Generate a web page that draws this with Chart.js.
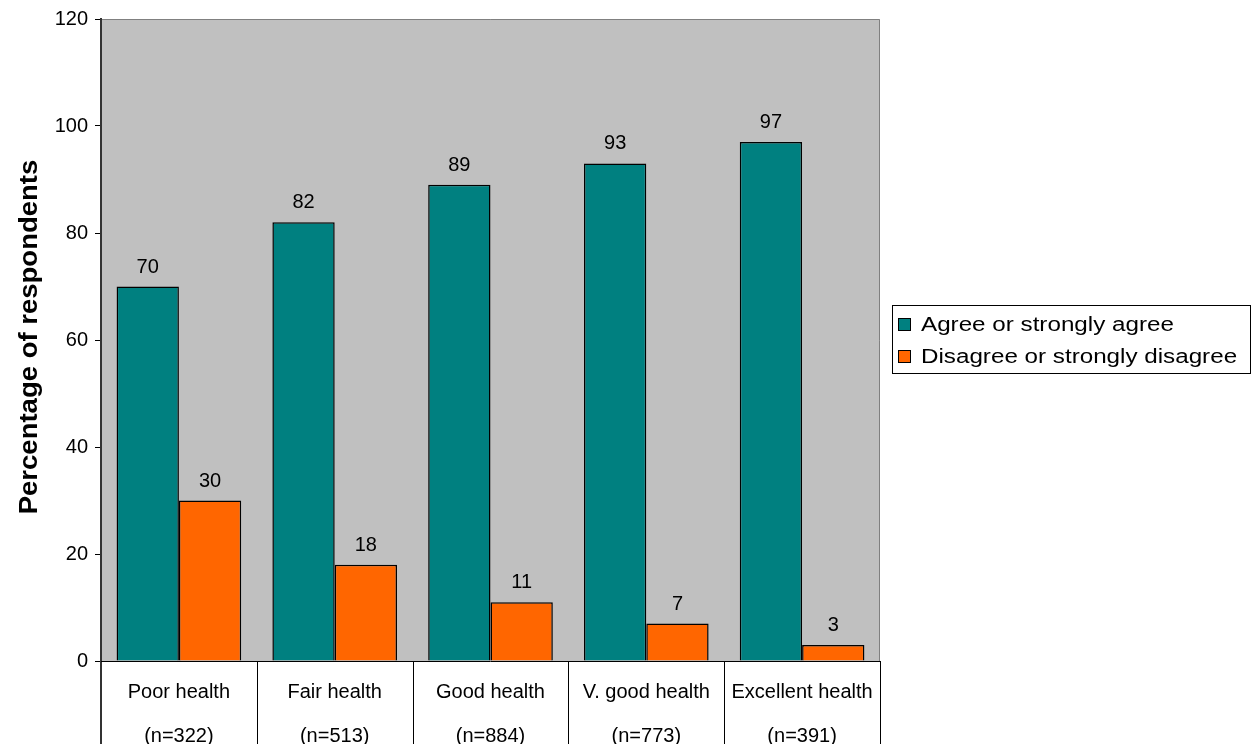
<!DOCTYPE html>
<html>
<head>
<meta charset="utf-8">
<script src="https://cdn.jsdelivr.net/npm/chart.js@4/dist/chart.umd.min.js"></script>
<style>
html,body{margin:0;padding:0;background:#fff;}
#wrap{width:1253px;height:744px;}
</style>
</head>
<body>
<div id="wrap"><canvas id="c" width="1253" height="744"></canvas></div>
<script>
const categories = [['Poor health','(n=322)'],['Fair health','(n=513)'],['Good health','(n=884)'],['V. good health','(n=773)'],['Excellent health','(n=391)']];
const agreeValues = [70, 82, 89, 93, 97];
const disagreeValues = [30, 18, 11, 7, 3];
const seriesLabels = ['Agree or strongly agree', 'Disagree or strongly disagree'];
const yTicks = [0, 20, 40, 60, 80, 100, 120];
const yTitle = 'Percentage of respondents';

const FONT = 'Arial, "Liberation Sans", sans-serif';

const plotBg = {
  id: 'plotBg',
  beforeDraw(chart) {
    const {ctx, chartArea: a} = chart;
    ctx.save();
    ctx.fillStyle = '#C0C0C0';
    ctx.fillRect(a.left, a.top, a.right - a.left, a.bottom - a.top);
    ctx.strokeStyle = '#808080';
    ctx.lineWidth = 1;
    ctx.beginPath();
    ctx.moveTo(a.left, a.top + 0.5); ctx.lineTo(a.right - 0.5, a.top + 0.5);
    ctx.lineTo(a.right - 0.5, a.bottom);
    ctx.stroke();
    ctx.restore();
  }
};

const extras = {
  id: 'extras',
  afterDraw(chart) {
    const {ctx, chartArea: a} = chart;
    const xs = chart.scales.x;
    const ys = chart.scales.y;
    ctx.save();
    // category separators below axis
    const n = chart.data.labels.length;
    const w = (xs.right - xs.left) / n;
    for (let i = 0; i <= n; i++) {
      const x = Math.round(xs.left + i * w) + (i === 0 ? 0 : 0.5);
      ctx.strokeStyle = i === 0 ? '#333' : '#000';
      ctx.lineWidth = i === 0 ? 2 : 1;
      ctx.beginPath();
      ctx.moveTo(x, a.bottom);
      ctx.lineTo(x, chart.height);
      ctx.stroke();
    }
    // x axis line
    ctx.strokeStyle = '#000';
    ctx.lineWidth = 1;
    ctx.beginPath();
    ctx.moveTo(a.left, a.bottom + 0.5);
    ctx.lineTo(a.right, a.bottom + 0.5);
    ctx.stroke();
    // value labels
    ctx.fillStyle = '#000';
    ctx.font = '20px ' + FONT;
    ctx.textAlign = 'center';
    ctx.textBaseline = 'alphabetic';
    chart.data.datasets.forEach((ds, di) => {
      const meta = chart.getDatasetMeta(di);
      meta.data.forEach((bar, i) => {
        ctx.fillText(String(ds.data[i]), bar.x, bar.y - 14);
      });
    });
    // y title (rotated)
    ctx.save();
    ctx.translate(30, (ys.top + ys.bottom) / 2 - 3);
    ctx.rotate(-Math.PI / 2);
    ctx.scale(1.1, 1);
    ctx.font = 'bold 25px ' + FONT;
    ctx.textAlign = 'center';
    ctx.textBaseline = 'middle';
    ctx.fillText(yTitle, 0, 0);
    ctx.restore();
    // legend
    const lx = 892, ly = 305, lw = 358, lh = 68;
    ctx.fillStyle = '#fff';
    ctx.fillRect(lx, ly, lw, lh);
    ctx.strokeStyle = '#000';
    ctx.lineWidth = 1;
    ctx.strokeRect(lx + 0.5, ly + 0.5, lw, lh);
    ctx.font = '20px ' + FONT;
    ctx.textAlign = 'left';
    ctx.textBaseline = 'middle';
    chart.data.datasets.forEach((ds, di) => {
      const cy = ly + 19 + di * 32;
      ctx.fillStyle = ds.backgroundColor;
      ctx.fillRect(lx + 6, cy - 6, 13, 13);
      ctx.strokeStyle = '#000';
      ctx.strokeRect(lx + 6.5, cy - 5.5, 12, 12);
      ctx.fillStyle = '#000';
      ctx.save();
      ctx.translate(lx + 29, cy + 1);
      ctx.scale(1.21, 1);
      ctx.fillText(ds.label, 0, 0);
      ctx.restore();
    });
    ctx.restore();
  }
};

new Chart(document.getElementById('c'), {
  type: 'bar',
  data: {
    labels: categories,
    datasets: [
      {label: seriesLabels[0], data: agreeValues, backgroundColor: '#008080', borderColor: '#000', borderWidth: 1.5},
      {label: seriesLabels[1], data: disagreeValues, backgroundColor: '#FF6600', borderColor: '#000', borderWidth: 1.5}
    ]
  },
  options: {
    responsive: false,
    animation: false,
    devicePixelRatio: 1,
    layout: {padding: {top: 15, right: 373, bottom: 0, left: 0}},
    categoryPercentage: 0.8,
    barPercentage: 1.0,
    plugins: {legend: {display: false}, tooltip: {enabled: false}},
    scales: {
      x: {
        grid: {display: false, drawOnChartArea: false, drawTicks: false},
        border: {display: false},
        ticks: {font: {family: FONT, size: 20, lineHeight: 2.2}, color: '#000', padding: 9, maxRotation: 0, autoSkip: false},
        afterFit(s) { s.height = 83; }
      },
      y: {
        min: 0, max: 120,
        afterBuildTicks(s) { s.ticks = yTicks.map(v => ({value: v})); },
        grid: {drawOnChartArea: false, tickLength: 6, color: '#000'},
        border: {display: true, color: '#333', width: 2},
        ticks: {font: {family: FONT, size: 20}, color: '#000', padding: 7},
        title: {display: false},
        afterFit(s) { s.width = 101; }
      }
    }
  },
  plugins: [plotBg, extras]
});
</script>
</body>
</html>
